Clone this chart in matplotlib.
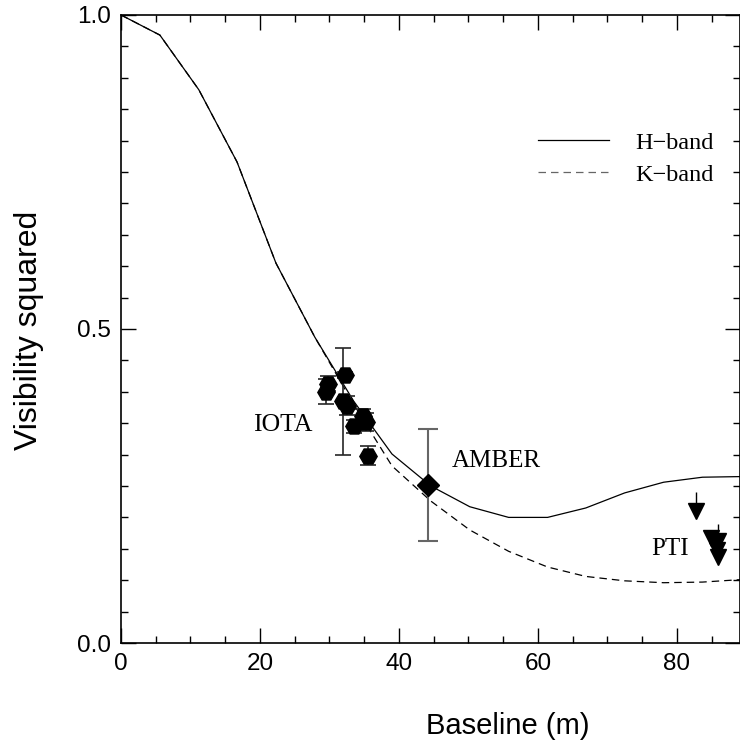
import matplotlib
matplotlib.use('Agg')
import matplotlib.pyplot as plt
from matplotlib.ticker import MultipleLocator
from matplotlib.lines import Line2D

# model curves (baseline in m, V^2)
model_x = [0.0, 5.6, 11.2, 16.7, 22.3, 27.9, 33.5, 39.0, 44.6, 50.2,
           55.8, 61.4, 66.9, 72.5, 78.1, 83.7, 89.3]
h_band = [1.0, 0.968, 0.881, 0.766, 0.605, 0.487, 0.385, 0.301, 0.250, 0.217,
          0.200, 0.200, 0.215, 0.239, 0.256, 0.264, 0.265]
k_band = [1.0, 0.968, 0.881, 0.766, 0.605, 0.487, 0.380, 0.282, 0.226, 0.180,
          0.146, 0.121, 0.106, 0.099, 0.096, 0.097, 0.101]

# IOTA measurements
iota_x = [29.5, 29.8, 32.3, 31.9, 32.5, 33.5, 34.8, 35.2, 35.5]
iota_y = [0.400, 0.413, 0.427, 0.385, 0.378, 0.345, 0.362, 0.352, 0.298]
iota_err = [0.020, 0.012, 0.005, 0.085, 0.015, 0.010, 0.010, 0.015, 0.015]

# AMBER measurement
amber_x = [44.2]
amber_y = [0.252]
amber_err = [0.089]

# PTI upper limits
pti_x = [82.8, 84.9, 86.0, 85.8, 85.9]
pti_y = [0.210, 0.167, 0.163, 0.148, 0.137]
pti_stem = [0.030, 0.0, 0.026, 0.0, 0.0]

sans = ['Liberation Sans', 'DejaVu Sans']
serif = ['Liberation Serif', 'DejaVu Serif']

fig = plt.figure(figsize=(7.4, 7.55), dpi=100)
ax = fig.add_axes([121 / 740, 112 / 755, 619 / 740, 628 / 755])

ax.plot(model_x, h_band, color='black', lw=0.9)
ax.plot(model_x, k_band, color='black', lw=0.9, linestyle=(0, (6, 4)))

ax.errorbar(iota_x, iota_y, yerr=iota_err, fmt='H', color='black',
            ecolor='0.15', elinewidth=1.2, capsize=5.5, capthick=1.2,
            markersize=12.5)
ax.errorbar(amber_x, amber_y, yerr=amber_err, fmt='D', color='black',
            ecolor='0.4', elinewidth=1.5, capsize=7, capthick=1.5,
            markersize=11)
ax.errorbar(pti_x, pti_y, yerr=[[0] * len(pti_y), pti_stem], fmt='v',
            color='black', ecolor='black', elinewidth=1.0, capsize=0,
            markersize=11)

ax.text(27.5, 0.347, 'IOTA', family=serif, fontsize=18.5, ha='right', va='center')
ax.text(47.6, 0.290, 'AMBER', family=serif, fontsize=18, ha='left', va='center')
ax.text(76.3, 0.150, 'PTI', family=serif, fontsize=18, ha='left', va='center')

handles = [Line2D([], [], color='black', lw=0.9),
           Line2D([], [], color='0.4', lw=0.9, linestyle=(0, (6, 4)))]
ax.legend(handles, ['H\u2212band', 'K\u2212band'], loc='upper left',
          bbox_to_anchor=(0.674, 0.814), frameon=False, borderpad=0,
          borderaxespad=0, handlelength=2.9, handletextpad=1.1,
          labelspacing=0.4, prop={'family': serif, 'size': 17.5})

ax.set_xlim(0, 89.1)
ax.set_ylim(0, 1.0)
ax.xaxis.set_major_locator(MultipleLocator(20))
ax.xaxis.set_minor_locator(MultipleLocator(5))
ax.yaxis.set_major_locator(MultipleLocator(0.5))
ax.yaxis.set_minor_locator(MultipleLocator(0.05))
ax.tick_params(which='both', direction='in', top=True, right=True)
ax.tick_params(which='major', length=11, width=1.0, pad=7)
ax.tick_params(which='minor', length=5, width=1.0)
for lab in ax.get_xticklabels() + ax.get_yticklabels():
    lab.set_family(sans)
    lab.set_fontsize(17.5)

for sp in ax.spines.values():
    sp.set_linewidth(1.2)

ax.set_xlabel('Baseline (m)', family=sans, fontsize=21)
ax.set_ylabel('Visibility squared', family=sans, fontsize=23)
ax.xaxis.set_label_coords(0.624, -0.11)
ax.yaxis.set_label_coords(-0.125, 0.498)

fig.savefig('out.png', dpi=100)
